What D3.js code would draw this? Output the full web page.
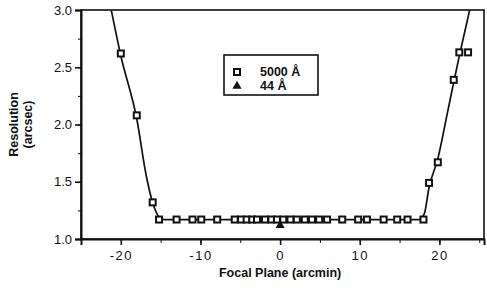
<!DOCTYPE html>
<html>
<head>
<meta charset="utf-8">
<script src="https://cdn.jsdelivr.net/npm/d3@7"></script>
<style>
  body { margin: 0; background: #fff; }
  svg { font-family: "Liberation Sans", Arial, sans-serif; }
  .tick text { font-size: 13px; fill: #111; }
</style>
</head>
<body>
<script>
// data
var squareX = [-20, -18, -16, -15.2, -13, -11, -9.9, -7.9, -5.7, -4.9, -4.2, -3.5, -2.9, -1.9, -1.1, -0.4,
  0.4, 1.3, 2.1, 3.1, 4.0, 4.9, 5.9, 7.8, 9.8, 10.9, 13.0, 14.7, 16.0, 18.0, 18.7, 19.8, 21.8, 22.5, 23.6];
var squareY = [2.62, 2.08, 1.32, 1.17, 1.17, 1.17, 1.17, 1.17, 1.17, 1.17, 1.17, 1.17, 1.17, 1.17, 1.17, 1.17,
  1.17, 1.17, 1.17, 1.17, 1.17, 1.17, 1.17, 1.17, 1.17, 1.17, 1.17, 1.17, 1.17, 1.17, 1.49, 1.67, 2.39, 2.63, 2.63];
var triX = [0];
var triY = [1.12];
// fitted curve
var curveX = [-21.2, -20, -18, -16.8, -16.1, -15.6, -15.1, -14.5, 0, 17.4, 18.1, 18.7, 19.8, 21, 22.5, 23.8];
var curveY = [3.0, 2.6, 2.05, 1.55, 1.34, 1.24, 1.185, 1.17, 1.17, 1.17, 1.22, 1.45, 1.7, 2.1, 2.6, 3.0];
var xTicks = [-20, -10, 0, 10, 20];
var yTicks = [1.0, 1.5, 2.0, 2.5, 3.0];
var legendLabels = ["5000 Å", "44 Å"];

var width = 487, height = 291;
var margin = { top: 10, right: 3, bottom: 52, left: 81 };

var svg = d3.select("body").append("svg")
  .attr("width", width)
  .attr("height", height);

var x = d3.scaleLinear().domain([-25, 25.6]).range([margin.left, width - margin.right]);
var y = d3.scaleLinear().domain([1.0, 3.0]).range([height - margin.bottom, margin.top]);

// frame
svg.append("rect")
  .attr("x", x(-25)).attr("y", y(3))
  .attr("width", x(25.6) - x(-25)).attr("height", y(1) - y(3))
  .attr("fill", "none").attr("stroke", "#111").attr("stroke-width", 1.6);

// minor ticks
svg.append("g")
  .attr("transform", "translate(0," + y(1) + ")")
  .call(d3.axisBottom(x).tickValues(d3.range(-25, 26, 5)).tickSize(4).tickFormat(""))
  .call(g => g.select(".domain").remove());
svg.append("g")
  .attr("transform", "translate(" + x(-25) + ",0)")
  .call(d3.axisLeft(y).tickValues(d3.range(1, 3.01, 0.25)).tickSize(3).tickFormat(""))
  .call(g => g.select(".domain").remove());

// major axes
var xAxis = svg.append("g")
  .attr("transform", "translate(0," + y(1) + ")")
  .call(d3.axisBottom(x).tickValues(xTicks).tickSize(6).tickPadding(6)
    .tickFormat(d => d < 0 ? "-" + Math.abs(d) : d));
xAxis.select(".domain").attr("stroke-width", 2).attr("stroke", "#111");
xAxis.selectAll(".tick line").attr("stroke-width", 1.6);
xAxis.selectAll(".tick text").attr("letter-spacing", "1.5px");

var yAxis = svg.append("g")
  .attr("transform", "translate(" + x(-25) + ",0)")
  .call(d3.axisLeft(y).tickValues(yTicks).tickSize(6).tickPadding(3).tickFormat(d3.format(".1f")));
yAxis.select(".domain").attr("stroke-width", 2).attr("stroke", "#111");
yAxis.selectAll(".tick line").attr("stroke-width", 1.6);
svg.selectAll(".tick line").attr("stroke", "#111");

// curve
var line = d3.line()
  .x(d => x(d[0]))
  .y(d => y(d[1]))
  .curve(d3.curveMonotoneX);

svg.append("path")
  .datum(d3.zip(curveX, curveY))
  .attr("d", line)
  .attr("fill", "none")
  .attr("stroke", "#111")
  .attr("stroke-width", 1.7);

// squares
var sq = 6;
svg.selectAll(".sq")
  .data(d3.zip(squareX, squareY))
  .enter().append("rect")
  .attr("class", "sq")
  .attr("x", d => x(d[0]) - sq / 2)
  .attr("y", d => y(d[1]) - sq / 2)
  .attr("width", sq).attr("height", sq)
  .attr("fill", "#fff").attr("stroke", "#111").attr("stroke-width", 2);

// triangle
var tri = d3.symbol().type(d3.symbolTriangle).size(36);
svg.selectAll(".tri")
  .data(d3.zip(triX, triY))
  .enter().append("path")
  .attr("class", "tri")
  .attr("d", tri)
  .attr("transform", d => "translate(" + x(d[0]) + "," + y(d[1]) + ")")
  .attr("fill", "#111");

// legend
var lg = svg.append("g").attr("transform", "translate(224,55)");
lg.append("rect").attr("width", 94).attr("height", 40)
  .attr("fill", "#fff").attr("stroke", "#111").attr("stroke-width", 1.6);
lg.append("rect").attr("x", 10).attr("y", 14).attr("width", 6).attr("height", 6)
  .attr("fill", "#fff").attr("stroke", "#111").attr("stroke-width", 2);
lg.append("path").attr("d", tri).attr("transform", "translate(13,31)").attr("fill", "#111");
lg.selectAll(".lt")
  .data(legendLabels)
  .enter().append("text")
  .attr("x", 36)
  .attr("y", (d, i) => 17.5 + i * 14)
  .attr("dominant-baseline", "middle")
  .attr("font-size", "12.5px")
  .attr("font-weight", "bold")
  .attr("fill", "#111")
  .text(d => d);

// axis titles
svg.append("text")
  .attr("x", x(0))
  .attr("y", 277)
  .attr("text-anchor", "middle")
  .attr("font-size", "12.5px")
  .attr("font-weight", "bold")
  .attr("fill", "#111")
  .text("Focal Plane (arcmin)");

var yt = svg.append("text")
  .attr("transform", "translate(18," + y(2) + ") rotate(-90)")
  .attr("text-anchor", "middle")
  .attr("font-size", "12.5px")
  .attr("font-weight", "bold")
  .attr("fill", "#111");
yt.append("tspan").attr("x", 0).attr("dy", 0).text("Resolution");
yt.append("tspan").attr("x", 0).attr("dy", 14).text("(arcsec)");
</script>
</body>
</html>
